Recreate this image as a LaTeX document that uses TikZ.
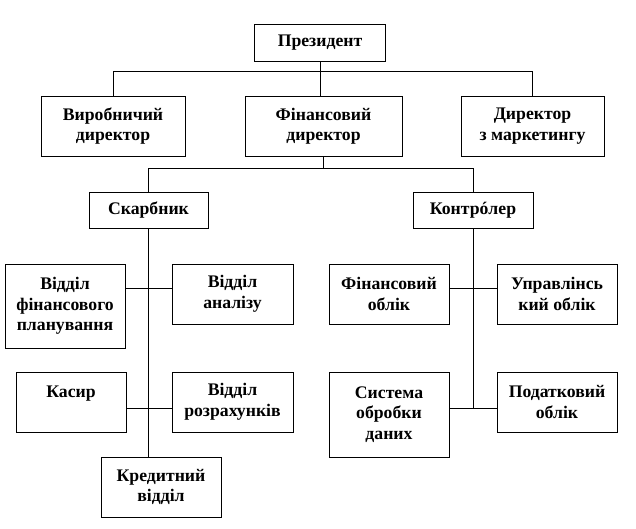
\documentclass[tikz,border=0pt]{standalone}
\usepackage{fontspec}
\setmainfont{Liberation Serif}
\usepackage{tikz}
\usetikzlibrary{positioning,calc}

\begin{document}
\begin{tikzpicture}[x=1pt,y=-1pt,box/.style={draw,line width=0.8pt,align=center,inner sep=0pt,font=\fontsize{17.7}{20.5}\selectfont\bfseries},sz/.style 2 args={minimum width=#1pt,minimum height=#2pt},ln/.style={line width=0.8pt}]
\useasboundingbox (0,0) rectangle (636,528);
% top levels
\node[box,sz={131}{37}](pres) at (320,42.5){Президент};
\node[box,sz={144}{60}](vyr) at (113,126){Виробничий\\директор};
\node[box,sz={157}{60}](fin) at (323.5,126){Фінансовий\\директор};
\node[box,sz={143}{60}](mark) at (532.5,126){Директор\\з маркетингу};
\node[box,sz={119}{36}](skarb) at (148.5,210){Скарбник};
\node[box,sz={120}{36}](kontr) at (473,210){Контрóлер};
% treasurer side
\node[box,sz={120}{84}](vfp) at (65,306){Відділ\\фінансового\\планування};
\node[box,sz={121}{60}](van) at (232.5,294){Відділ\\аналізу};
\node[box,sz={110}{60}](kasyr) at (71,402){Касир\\\mbox{}};
\node[box,sz={121}{60}](vroz) at (232.5,402){Відділ\\розрахунків};
\node[box,sz={120}{60}](kred) at (161,487){Кредитний\\відділ};
% controller side
\node[box,sz={120}{60}](fobl) at (389,294){Фінансовий\\облік};
\node[box,sz={120}{60}](uobl) at (557,294){Управлінсь\\кий облік};
\node[box,sz={120}{85}](sobr) at (389,414.5){Система\\обробки\\даних};
\node[box,sz={120}{60}](pobl) at (557,402){Податковий\\облік};
\coordinate (h2) at (318,168); \coordinate (j1) at (148,288); \coordinate (j2) at (148,408); \coordinate (j3) at (473,288); \coordinate (j4) at (473,408);
\draw[ln](vyr.north)--++(0,-24)-|(mark.north); \draw[ln](pres.south)--(pres.south|-fin.north);
\draw[ln](fin.south)--(fin.south|-h2); \draw[ln](skarb.north)--(skarb.north|-h2)--(kontr.north|-h2)--(kontr.north);
\draw[ln](skarb.south)--(skarb.south|-kred.north); \draw[ln](vfp.east|-j1)--(van.west|-j1); \draw[ln](kasyr.east|-j2)--(vroz.west|-j2);
\draw[ln](kontr.south)--(kontr.south|-j4); \draw[ln](fobl.east|-j3)--(uobl.west|-j3); \draw[ln](sobr.east|-j4)--(pobl.west|-j4);
\end{tikzpicture}
\end{document}
